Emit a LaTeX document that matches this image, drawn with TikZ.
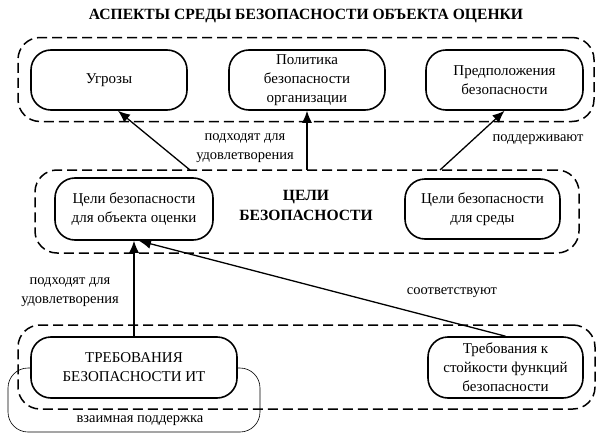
\documentclass[tikz,border=0pt]{standalone}
\usepackage{fontspec}
\setmainfont{Liberation Serif}
\usetikzlibrary{arrows.meta}
\tikzset{
  pill/.style={draw, line width=1.6pt, rounded corners=20pt, fill=white, align=center,
    minimum height=60pt, inner sep=2pt, font=\fontsize{15}{19}\selectfont},
  area/.style={draw, dash pattern=on 10pt off 5pt, line width=1.5pt, rounded corners=22pt,
    minimum height=84pt},
  link/.style={line width=1.3pt, -{Latex[length=12pt,width=10pt]}},
  note/.style={align=center, font=\fontsize{14.5}{19}\selectfont},
  head/.style={align=center, font=\bfseries\fontsize{15.6}{20}\selectfont},
}
\begin{document}
\begin{tikzpicture}[x=1pt,y=-1pt]
  \useasboundingbox (0,0) rectangle (611,439);
  \node[head] (title) at (306,16) {АСПЕКТЫ СРЕДЫ БЕЗОПАСНОСТИ ОБЪЕКТА ОЦЕНКИ};

  % dashed areas
  \node[area, minimum width=576pt] (aspects) at (306,79.5) {};
  \node[area, minimum width=544pt, minimum height=83pt] (objectives) at (307,211.5) {};
  \node[area, minimum width=577pt] (requirements) at (306.5,367) {};

  % mutual support loop
  \draw[line width=0.6pt, rounded corners=20pt] (31,368) -- (8,368) -- (8,432) -- (260,432) -- (260,368) -- (237,368);

  % upper row
  \node[pill, minimum width=156pt] (threats) at (109,80) {Угрозы};
  \node[pill, minimum width=156pt] (policy) at (307,80) {Политика\\безопасности\\организации};
  \node[pill, minimum width=157pt] (assumptions) at (504.5,80) {Предположения\\безопасности};

  % middle row
  \node[pill, minimum width=158pt, minimum height=62pt] (toeobj) at (134,209) {Цели безопасности\\для объекта оценки};
  \node[pill, minimum width=155pt] (envobj) at (482.5,209) {Цели безопасности\\для среды};
  \node[head] (objname) at (306,205) {ЦЕЛИ\\БЕЗОПАСНОСТИ};

  % lower row
  \node[pill, minimum width=206pt, minimum height=61pt] (itreq) at (134,367.5) {ТРЕБОВАНИЯ\\БЕЗОПАСНОСТИ ИТ};
  \node[pill, minimum width=155pt, minimum height=61pt] (strength) at (505.5,367.5) {Требования к\\стойкости функций\\безопасности};

  \coordinate (o1) at (190,170);
  \coordinate (o2) at (307,170);
  \coordinate (o3) at (440,170);

  \draw[link] (o1) -- ([xshift=9pt]threats.south);
  \draw[link] (o2) -- (policy.south);
  \draw[link] (o3) -- (assumptions.south);
  \draw[link] (itreq.north) -- (toeobj.south);
  \draw[link] (strength.north) -- ([xshift=5pt]toeobj.south);

  % labels
  \node[note] (fit1) at (245,148) {подходят для\\удовлетворения};
  \node[note] (supp) at (538,140) {поддерживают};
  \node[note] (fit2) at (70,292) {подходят для\\удовлетворения};
  \node[note] (corr) at (452,293) {соответствуют};
  \node[note] (mutual) at (140,421) {взаимная поддержка};
\end{tikzpicture}
\end{document}
